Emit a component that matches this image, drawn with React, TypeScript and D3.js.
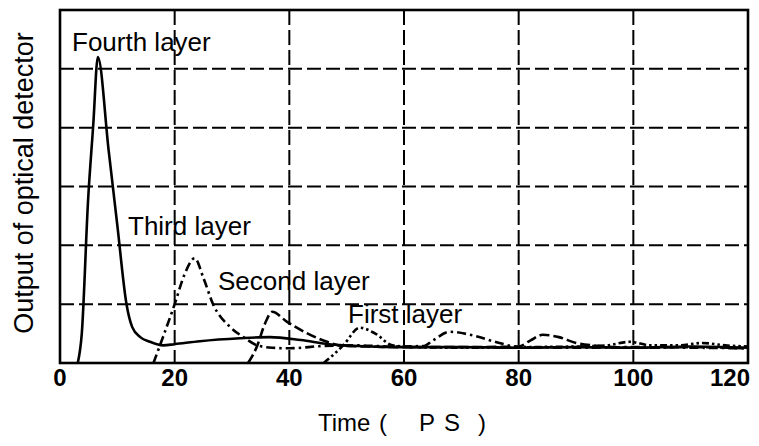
import React from "react";
import * as d3 from "d3";

// ---- data (time in ps, detector output in arbitrary grid units) ----
const xTicks = [0, 20, 40, 60, 80, 100, 120];
const yGrid = [1, 2, 3, 4, 5];

const fourthLayerT = [3.1, 3.8, 4.9, 5.8, 6.6, 8.5, 10.0, 11.6, 12.6, 14, 15.7, 18, 20, 24.4, 31.4, 36.6, 42, 47, 52, 60, 70, 80, 90, 100, 110, 120];
const fourthLayerV = [0, 0.5, 2.77, 4.05, 5.2, 3.6, 2.34, 1.0, 0.61, 0.44, 0.36, 0.3, 0.32, 0.37, 0.42, 0.44, 0.39, 0.32, 0.29, 0.27, 0.27, 0.26, 0.27, 0.26, 0.28, 0.26];

const thirdLayerT = [16.3, 18, 20, 21.7, 23.5, 25, 26.7, 29.7, 32, 34.4, 37, 40, 46, 52, 58, 63.5, 65, 68, 72, 77, 80, 90, 100, 110, 120];
const thirdLayerV = [0, 0.45, 1.0, 1.5, 1.78, 1.45, 1.0, 0.61, 0.44, 0.3, 0.26, 0.25, 0.29, 0.3, 0.28, 0.29, 0.38, 0.53, 0.47, 0.33, 0.27, 0.26, 0.27, 0.26, 0.25];

const secondLayerT = [32.8, 34.3, 35.8, 37, 39.6, 43, 46.6, 49.4, 54, 60, 70, 80, 82, 84.2, 87, 90, 94, 100, 110, 120];
const secondLayerV = [0, 0.27, 0.68, 0.87, 0.7, 0.51, 0.36, 0.29, 0.28, 0.27, 0.27, 0.28, 0.38, 0.48, 0.44, 0.34, 0.29, 0.26, 0.27, 0.25];

const firstLayerT = [46, 47.8, 49.4, 52.3, 55, 58, 62, 70, 80, 90, 95.4, 99.4, 103, 108, 112, 116, 120];
const firstLayerV = [0, 0.15, 0.3, 0.6, 0.5, 0.3, 0.27, 0.26, 0.27, 0.28, 0.3, 0.36, 0.3, 0.3, 0.34, 0.3, 0.28];

const seriesNames = ["Fourth layer", "Third layer", "Second layer", "First layer"];

const W = 759;
const H = 446;
const left = 60, right = 748, top = 10, bottom = 363;

export default function App() {
  const x = d3.scaleLinear().domain([0, 120]).range([left, right]);
  const y = d3.scaleLinear().domain([0, 6]).range([bottom, top]);
  const line = d3
    .line<[number, number]>()
    .x((d) => x(d[0]))
    .y((d) => y(d[1]))
    .curve(d3.curveMonotoneX);

  const zip = (t: number[], v: number[]) => t.map((ti, i) => [ti, v[i]] as [number, number]);

  const series = [
    { name: seriesNames[0], pts: zip(fourthLayerT, fourthLayerV), dash: "none", w: 2.6 },
    { name: seriesNames[1], pts: zip(thirdLayerT, thirdLayerV), dash: "9,4,2.5,4", w: 2.6 },
    { name: seriesNames[2], pts: zip(secondLayerT, secondLayerV), dash: "10,4", w: 2.6 },
    { name: seriesNames[3], pts: zip(firstLayerT, firstLayerV), dash: "7,3,2.5,3,2.5,3", w: 2.6 },
  ];

  const font = "'Liberation Sans', Arial, sans-serif";

  return (
    <svg
      width={W}
      height={H}
      style={{ position: "absolute", left: 0, top: 0, background: "#fff" }}
      fontFamily={font}
    >
      <rect x={0} y={0} width={W} height={H} fill="#fff" />
      {/* grid */}
      {xTicks.slice(1, -1).map((t) => (
        <line key={"gx" + t} x1={x(t)} x2={x(t)} y1={top} y2={bottom} stroke="#000" strokeWidth={2} strokeDasharray="15,5" />
      ))}
      {yGrid.map((v) => (
        <line key={"gy" + v} x1={left} x2={right} y1={y(v)} y2={y(v)} stroke="#000" strokeWidth={2} strokeDasharray="14,5" />
      ))}
      {/* curves */}
      {series.map((s) => (
        <path
          key={s.name}
          d={line(s.pts) || ""}
          fill="none"
          stroke="#000"
          strokeWidth={s.w}
          strokeDasharray={s.dash}
          strokeLinejoin="round"
        />
      ))}
      {/* frame */}
      <rect x={left} y={top} width={right - left} height={bottom - top} fill="none" stroke="#000" strokeWidth={2.6} />
      {/* tick labels */}
      {xTicks.map((t, i) => (
        <text
          key={"t" + t}
          x={i === xTicks.length - 1 ? x(t) + 2 : x(t)}
          y={386}
          textAnchor={i === xTicks.length - 1 ? "end" : "middle"}
          fontSize={24}
          fontWeight="bold"
          fill="#000"
        >
          {t}
        </text>
      ))}
      {/* series labels */}
      <text x={72} y={51} fontSize={26} fill="#000">{seriesNames[0]}</text>
      <text x={128} y={235} fontSize={26} fill="#000">{seriesNames[1]}</text>
      <text x={218} y={290} fontSize={26} fill="#000">{seriesNames[2]}</text>
      <text x={348} y={323} fontSize={26} fill="#000">{seriesNames[3]}</text>
      {/* axis titles */}
      <text transform="translate(33,183) rotate(-90)" textAnchor="middle" fontSize={27} fill="#000">
        Output of optical detector
      </text>
      <text y={431} fontSize={24} fill="#000">
        <tspan x={318}>Time</tspan>
        <tspan x={379}>(</tspan>
        <tspan x={419}>P</tspan>
        <tspan x={444}>S</tspan>
        <tspan x={478}>)</tspan>
      </text>
    </svg>
  );
}
